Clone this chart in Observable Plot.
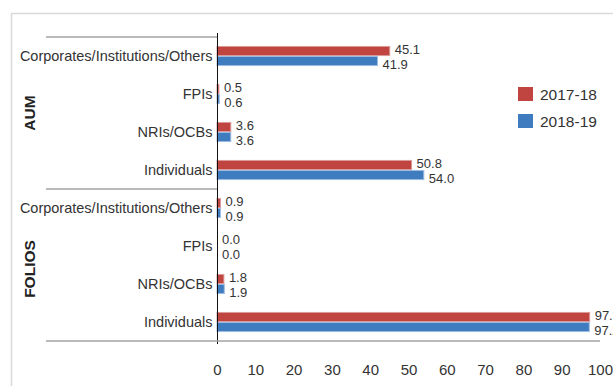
<!DOCTYPE html>
<html>
<head>
<meta charset="utf-8">
<script src="https://cdn.jsdelivr.net/npm/d3@7"></script>
<script src="https://cdn.jsdelivr.net/npm/@observablehq/plot@0.6"></script>
<style>
  html, body { margin: 0; padding: 0; background: #fff; overflow: hidden; }
  #chart { position: relative; width: 613px; height: 386px; }
  #chart svg { font-family: "Liberation Sans", Arial, sans-serif; }
  #chart svg g[aria-label^="x-axis"] text { font-size: 15px; }
  #chart svg g[aria-label^="y-axis"] text { font-size: 14.5px; }
</style>
</head>
<body>
<div id="chart"></div>
<script>
// Investor-class shares (%) of AUM and of folios, two fiscal years
const groups = ["AUM", "FOLIOS"];
const categories = ["Corporates/Institutions/Others", "FPIs", "NRIs/OCBs", "Individuals"];
const series = ["2017-18", "2018-19"];

const aum2017 = [45.1, 0.5, 3.6, 50.8];
const aum2018 = [41.9, 0.6, 3.6, 54.0];
const folios2017 = [0.9, 0.0, 1.8, 97.3];
const folios2018 = [0.9, 0.0, 1.9, 97.2];

const xTicks = [0, 10, 20, 30, 40, 50, 60, 70, 80, 90, 100];
const colors = ["#c0443f", "#3f7bbf"];
const edgeColors = ["#dd9a97", "#9fbde2"];

const valuesBy = {
  AUM: {"2017-18": aum2017, "2018-19": aum2018},
  FOLIOS: {"2017-18": folios2017, "2018-19": folios2018}
};

// One row per group / category / year; the y band key combines group and category
const rows = [];
for (const g of groups) {
  categories.forEach((c, ci) => {
    for (const s of series) {
      rows.push({group: g, category: c, key: g + "|" + c, series: s, value: valuesBy[g][s][ci]});
    }
  });
}
const keys = Array.from(new Set(rows.map(d => d.key)));

const W = 613, H = 386;
const mTop = 33, mBottom = 42, mLeft = 217, mRight = 13;
const bw = (H - mTop - mBottom) / keys.length;
const barH = 10;
const fmt = d3.format(".1f");

const byYear = s => rows.filter(d => d.series === s);

const chart = Plot.plot({
  width: W,
  height: H,
  marginTop: mTop,
  marginBottom: mBottom,
  marginLeft: mLeft,
  marginRight: mRight,
  style: {background: "transparent", color: "#333", overflow: "visible", fontFamily: "Liberation Sans, Arial, sans-serif"},
  x: {domain: [0, 100], ticks: xTicks, tickSize: 0, tickPadding: 20, label: null},
  y: {domain: keys, padding: 0, tickSize: 0, tickPadding: 5, label: null, tickFormat: k => k.split("|")[1]},
  color: {domain: series, range: colors},
  marks: [
    Plot.barX(byYear(series[0]), {
      x: "value", y: "key", fill: "series",
      stroke: edgeColors[0], strokeWidth: 1,
      insetTop: bw / 2 - barH, insetBottom: bw / 2
    }),
    Plot.barX(byYear(series[1]), {
      x: "value", y: "key", fill: "series",
      stroke: edgeColors[1], strokeWidth: 1,
      insetTop: bw / 2, insetBottom: bw / 2 - barH
    }),
    Plot.text(byYear(series[0]), {
      x: "value", y: "key", text: d => fmt(d.value),
      textAnchor: "start", dx: 4.5, dy: -7, fontSize: 13, fill: "#333"
    }),
    Plot.text(byYear(series[1]), {
      x: "value", y: "key", text: d => fmt(d.value),
      textAnchor: "start", dx: 4.5, dy: 8, fontSize: 13, fill: "#333"
    }),
    Plot.ruleX([0], {stroke: "#111", strokeWidth: 1})
  ]
});

document.getElementById("chart").appendChild(chart);

// Group separators, group titles, outer frame and legend, placed from the plot's scales
const svg = d3.select(chart);
const yS = chart.scale("y");
const xS = chart.scale("x");
const bandStart = k => yS.apply(k);
const step = yS.bandwidth;
const lineColor = "#a3a3a3";
const leftEdge = 46;

const deco = svg.append("g");

// outer frame
deco.append("path")
  .attr("d", `M11.5,${H}V13.5H${W}`)
  .attr("fill", "none").attr("stroke", "#d9d9d9").attr("stroke-width", 1.5);

groups.forEach((g, gi) => {
  const gKeys = keys.filter(k => k.startsWith(g + "|"));
  const top = bandStart(gKeys[0]);
  const bottom = bandStart(gKeys[gKeys.length - 1]) + step;
  deco.append("line")
    .attr("x1", leftEdge).attr("x2", xS.apply(0))
    .attr("y1", top).attr("y2", top)
    .attr("stroke", lineColor).attr("stroke-width", 1.3);
  if (gi === groups.length - 1) {
    deco.append("line")
      .attr("x1", leftEdge).attr("x2", xS.apply(100))
      .attr("y1", bottom).attr("y2", bottom)
      .attr("stroke", lineColor).attr("stroke-width", 1.3);
  }
  const mid = (top + bottom) / 2 + (gi === 0 ? 0 : 4);
  deco.append("text")
    .attr("transform", `translate(35,${mid}) rotate(-90)`)
    .attr("text-anchor", "middle")
    .attr("font-weight", "bold")
    .attr("font-size", 15.5)
    .attr("fill", "#222")
    .text(g);
});

// legend
const legend = svg.append("g").attr("transform", "translate(518,87)");
series.forEach((s, i) => {
  const row = legend.append("g").attr("transform", `translate(0,${i * 27})`);
  row.append("rect").attr("width", 15).attr("height", 14).attr("fill", colors[i]);
  row.append("text")
    .attr("x", 22).attr("y", 13)
    .attr("text-anchor", "start")
    .attr("font-size", 15.5).attr("fill", "#333")
    .text(s);
});
</script>
</body>
</html>
